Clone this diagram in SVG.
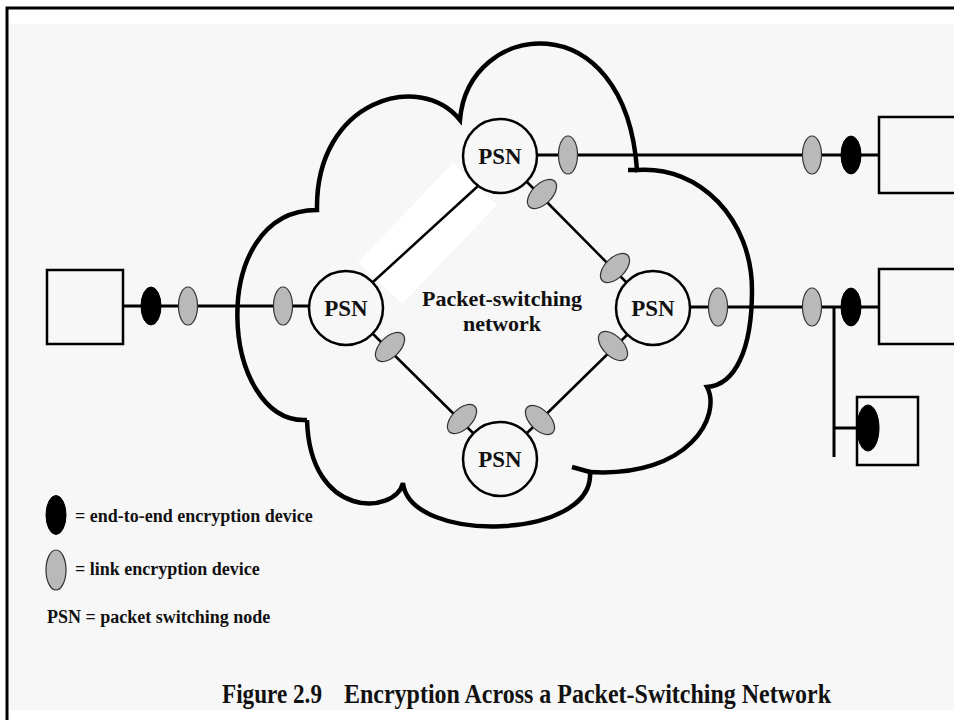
<svg xmlns="http://www.w3.org/2000/svg" width="954" height="720" viewBox="0 0 954 720">
<style>
.t{font-family:"Liberation Serif","Times New Roman",serif;font-weight:bold;fill:#111}
.psn{font-size:23px;text-anchor:middle}
.leg{font-size:18px}
.node{fill:#f7f7f7;stroke:#000;stroke-width:2.5}
.box{fill:#f7f7f7;stroke:#000;stroke-width:2.5}
.lk{fill:#b9b9b9;stroke:#333;stroke-width:1.2}
.ee{fill:#000;stroke:#000;stroke-width:1}
.ln{stroke:#000;stroke-width:3;fill:none}
.dl{stroke:#000;stroke-width:2.5;fill:none}
.cloud{stroke:#000;stroke-width:4.5;fill:none;stroke-linecap:butt}
</style>
<rect x="0" y="0" width="954" height="720" fill="#fff"/>
<rect x="8" y="24" width="946" height="686" fill="#f7f7f7"/>
<path d="M7,720 V8 H954" stroke="#000" stroke-width="3" fill="none"/>

<g id="cloud">
<path class="cloud" d="M307,420 C220,425 205,210 317,210 C315,100 420,70 460,120 C468,20 625,0 637,170 C700,165 752,220 752,290 C752,350 735,385 707,387 C722,415 690,478 590,472 C595,540 410,545 403,483 C395,515 310,520 307,420"/>
<path class="cloud" d="M590,472 L572,467 M637,170 L628,170"/>
</g>

<polygon points="453,163 497,205 402,304 358,262" fill="#fff"/>

<g id="connectors">
<line class="ln" x1="123" y1="306" x2="310" y2="306"/>
<line class="ln" x1="537" y1="155" x2="879" y2="155"/>
<line class="ln" x1="690" y1="307" x2="879" y2="307"/>
<line class="ln" x1="834" y1="307" x2="834" y2="457"/>
<line class="ln" x1="834" y1="428" x2="858" y2="428"/>
<line class="dl" x1="373" y1="282" x2="478" y2="186"/>
<line class="dl" x1="526" y1="181" x2="627" y2="283"/>
<line class="dl" x1="627" y1="335" x2="526" y2="434"/>
<line class="dl" x1="474" y1="434" x2="372" y2="333"/>
</g>

<g id="host-left"><rect class="box" x="47" y="270" width="76" height="74"/></g>
<g id="host-top-right"><rect class="box" x="879" y="117" width="80" height="76"/></g>
<g id="host-mid-right"><rect class="box" x="879" y="269" width="80" height="75"/></g>
<g id="host-small"><rect class="box" x="857" y="397" width="61" height="68"/><ellipse class="ee" cx="868" cy="428" rx="11" ry="23"/></g>

<g id="psn-left"><circle class="node" cx="346" cy="308" r="37"/><text class="t psn" x="346" y="316">PSN</text></g>
<g id="psn-top"><circle class="node" cx="500" cy="156" r="37"/><text class="t psn" x="500" y="164">PSN</text></g>
<g id="psn-right"><circle class="node" cx="653" cy="308" r="37"/><text class="t psn" x="653" y="316">PSN</text></g>
<g id="psn-bottom"><circle class="node" cx="500" cy="459" r="37"/><text class="t psn" x="500" y="467">PSN</text></g>

<g id="devices">
<ellipse class="ee" cx="151" cy="306" rx="10" ry="19"/>
<ellipse class="lk" cx="188" cy="306" rx="9.5" ry="19"/>
<ellipse class="lk" cx="283" cy="306" rx="9.5" ry="19"/>
<ellipse class="lk" cx="568" cy="155" rx="9.5" ry="19"/>
<ellipse class="lk" cx="812" cy="155" rx="9.5" ry="19"/>
<ellipse class="ee" cx="851" cy="155" rx="10" ry="19"/>
<ellipse class="lk" cx="718" cy="307" rx="9.5" ry="19"/>
<ellipse class="lk" cx="812" cy="307" rx="9.5" ry="19"/>
<ellipse class="ee" cx="851" cy="307" rx="10" ry="19"/>
<ellipse class="lk" cx="0" cy="0" rx="18" ry="10" transform="translate(542,194) rotate(-45)"/>
<ellipse class="lk" cx="0" cy="0" rx="18" ry="10" transform="translate(615,268) rotate(-45)"/>
<ellipse class="lk" cx="0" cy="0" rx="18" ry="10" transform="translate(613,346) rotate(45)"/>
<ellipse class="lk" cx="0" cy="0" rx="18" ry="10" transform="translate(540,420) rotate(45)"/>
<ellipse class="lk" cx="0" cy="0" rx="18" ry="10" transform="translate(462,419) rotate(-45)"/>
<ellipse class="lk" cx="0" cy="0" rx="18" ry="10" transform="translate(390,347) rotate(-45)"/>
</g>

<g id="label">
<text class="t" x="502" y="306" font-size="22" text-anchor="middle">Packet-switching</text>
<text class="t" x="502" y="331" font-size="22" text-anchor="middle">network</text>
</g>

<g id="legend">
<ellipse class="ee" cx="56" cy="515" rx="10" ry="19.5"/>
<text class="t leg" x="75" y="522">= end-to-end encryption device</text>
<ellipse class="lk" cx="56" cy="570" rx="10" ry="20"/>
<text class="t leg" x="75" y="575">= link encryption device</text>
<text class="t leg" x="47" y="623">PSN = packet switching node</text>
</g>

<g id="caption">
<text class="t" x="222" y="703" font-size="27" textLength="100" lengthAdjust="spacingAndGlyphs">Figure 2.9</text>
<text class="t" x="344" y="703" font-size="27" textLength="487" lengthAdjust="spacingAndGlyphs">Encryption Across a Packet-Switching Network</text>
</g>
</svg>
